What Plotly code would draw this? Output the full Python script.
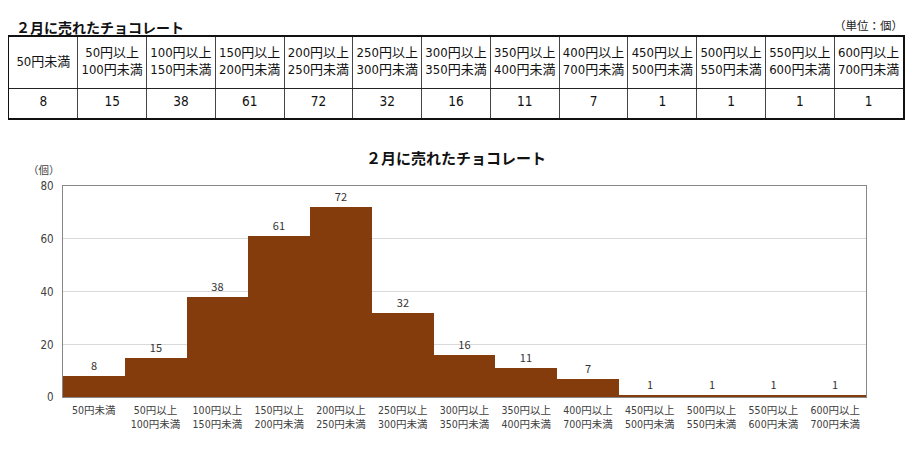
import plotly.graph_objects as go

# page geometry: figure sits inside the browser body margin
REF_W, REF_H = 913, 449
OFF = 8
W, H = REF_W - 2 * OFF, REF_H - 2 * OFF
# measured vertical mapping of the photographed page (rendered = V0 + VS * page_y)
V0, VS = 9.5, 0.961

title_text = "２月に売れたチョコレート"
unit_text = "（単位：個）"
y_unit = "（個）"
categories = ["50円未満", "50円以上<br>100円未満", "100円以上<br>150円未満", "150円以上<br>200円未満",
              "200円以上<br>250円未満", "250円以上<br>300円未満", "300円以上<br>350円未満",
              "350円以上<br>400円未満", "400円以上<br>700円未満", "450円以上<br>500円未満",
              "500円以上<br>550円未満", "550円以上<br>600円未満", "600円以上<br>700円未満"]
counts = [8, 15, 38, 61, 72, 32, 16, 11, 7, 1, 1, 1, 1]

FONT = "Noto Sans CJK JP"
NARROW = "Liberation Sans Narrow, DejaVu Sans Condensed, Noto Sans CJK JP"
BROWN = "#843C0C"


def px_x(x):
    return (x - OFF) / W


def px_y(y):
    fig_y = (y - V0) / VS - OFF
    return 1 - fig_y / H


n = len(categories)
xs = list(range(n))
cell_x = [i + 0.5 for i in xs]

HEAD_H, VAL_H = 51, 29
TOP_T = 39

fig = go.Figure()

# ---- table drawn on its own axes ----
fig.add_trace(go.Scatter(
    x=cell_x, y=[VAL_H + HEAD_H / 2] * n, text=categories, mode="text",
    textposition="middle center", textfont=dict(family=NARROW, size=13, color="#111111"),
    xaxis="x2", yaxis="y2", hoverinfo="skip", showlegend=False,
))
fig.add_trace(go.Scatter(
    x=cell_x, y=[VAL_H / 2] * n, text=[str(c) for c in counts], mode="text",
    textposition="middle center", textfont=dict(family=NARROW, size=13.5, color="#111111"),
    xaxis="x2", yaxis="y2", hoverinfo="skip", showlegend=False,
))

# ---- histogram ----
fig.add_trace(go.Bar(
    x=xs, y=counts, marker=dict(color=BROWN, line=dict(width=0)),
    text=[str(c) for c in counts], textposition="outside", cliponaxis=False,
    textfont=dict(family=FONT, size=11, color="#333333"),
    xaxis="x", yaxis="y", showlegend=False, hoverinfo="skip",
))

fig.update_layout(
    width=W, height=H, margin=dict(l=0, r=0, t=0, b=0), autosize=False,
    paper_bgcolor="white", plot_bgcolor="white",
    bargap=0, showlegend=False,
    font=dict(family=FONT, color="#404040"),
    xaxis=dict(domain=[px_x(63), px_x(867)], tickmode="array", tickvals=xs, ticktext=categories,
               tickfont=dict(family=NARROW, size=10.5, color="#404040"), showgrid=False,
               showline=True, linecolor="#888888", mirror=True, ticks="", range=[-0.5, n - 0.5],
               anchor="y", fixedrange=True, ticklabelstandoff=3),
    yaxis=dict(domain=[px_y(397), px_y(187)], range=[0, 80], dtick=20,
               tickfont=dict(family=NARROW, size=11.5, color="#404040"),
               showgrid=True, gridcolor="#d9d9d9", gridwidth=1,
               showline=True, linecolor="#888888", mirror=True, ticks="", zeroline=False,
               anchor="x", fixedrange=True, ticklabelstandoff=6),
    xaxis2=dict(domain=[px_x(9), px_x(904)], range=[0, n], tickmode="array", tickvals=list(range(n + 1)),
                showticklabels=False, showgrid=True, gridcolor="#444444", gridwidth=1,
                showline=True, linecolor="#111111", linewidth=1.5, mirror=True, zeroline=False, ticks="",
                anchor="y2", fixedrange=True),
    yaxis2=dict(domain=[px_y(TOP_T + HEAD_H + VAL_H), px_y(TOP_T)], range=[0, HEAD_H + VAL_H],
                tickmode="array", tickvals=[VAL_H], showticklabels=False, showgrid=True,
                gridcolor="#222222", gridwidth=1, showline=True, linecolor="#111111", linewidth=1.5,
                mirror=True, zeroline=False, ticks="", anchor="x2", fixedrange=True),
    annotations=[
        dict(text="<b>" + title_text + "</b>", x=px_x(14), y=1, xref="paper", yref="paper",
             xanchor="left", yanchor="top", showarrow=False,
             font=dict(family=FONT, size=14, color="#111111")),
        dict(text=unit_text, x=px_x(906), y=1, xref="paper", yref="paper",
             xanchor="right", yanchor="top", showarrow=False,
             font=dict(family=FONT, size=11.5, color="#222222")),
        dict(text="<b>" + title_text + "</b>", x=px_x(456), y=px_y(159), xref="paper", yref="paper",
             xanchor="center", yanchor="middle", showarrow=False,
             font=dict(family=FONT, size=15, color="#111111")),
        dict(text=y_unit, x=px_x(44), y=px_y(171), xref="paper", yref="paper",
             xanchor="center", yanchor="middle", showarrow=False,
             font=dict(family=FONT, size=10.5, color="#404040")),
    ],
)

fig.write_html("out.html")
